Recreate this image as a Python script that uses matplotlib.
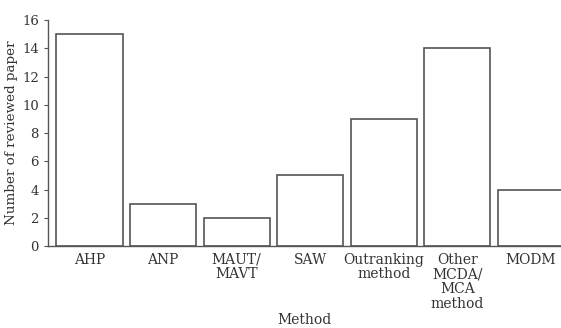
import matplotlib
matplotlib.use('Agg')
import matplotlib.pyplot as plt

methods = ['AHP', 'ANP', 'MAUT/\nMAVT', 'SAW', 'Outranking\nmethod',
           'Other\nMCDA/\nMCA\nmethod', 'MODM']
papers = [15, 3, 2, 5, 9, 14, 4]

plt.rcParams['font.family'] = ['DejaVu Serif']
txt = '#333333'

fig = plt.figure(figsize=(5.61, 3.28), dpi=100)
ax = fig.add_axes([0.0856, 0.25, 0.9144, 0.689])

x = range(len(methods))
ax.bar(x, papers, width=0.9, color='white', edgecolor='#555555', linewidth=1.2)

ax.set_xlim(-0.565, 6.41)
ax.set_ylim(0, 16)
ax.set_yticks(range(0, 17, 2))
ax.set_xticks(list(x))
ax.set_xticklabels(methods, fontsize=10, color=txt, linespacing=1.05)
ax.tick_params(axis='x', length=0, pad=5)
ax.tick_params(axis='y', length=3, labelsize=9.5, colors=txt, color='#555555')

for side in ['top', 'right']:
    ax.spines[side].set_visible(False)
for side in ['left', 'bottom']:
    ax.spines[side].set_color('#555555')
    ax.spines[side].set_linewidth(1.0)

ax.set_ylabel('Number of reviewed paper', fontsize=9.7, color=txt, labelpad=3)
ax.set_xlabel('Method', fontsize=10, color=txt, labelpad=2)

plt.savefig('out.png', dpi=100)
